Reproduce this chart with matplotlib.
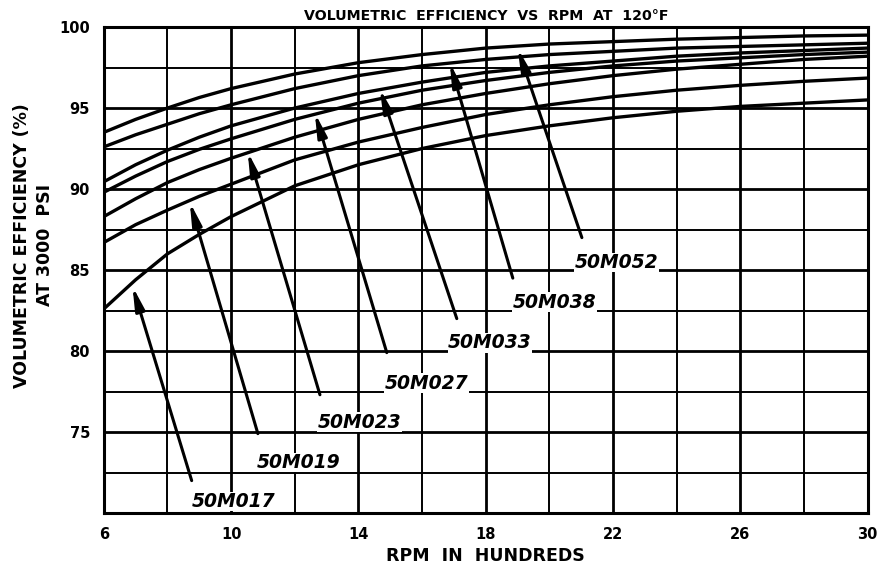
import numpy as np
import matplotlib
matplotlib.use("Agg")
import matplotlib.pyplot as plt

# rpm in hundreds, read at these points for every curve
rpm = [6, 7, 8, 9, 10, 12, 14, 16, 18, 20, 22, 24, 26, 28, 30]

m052 = [93.5, 94.3, 95.0, 95.65, 96.2, 97.1, 97.8, 98.3, 98.7, 98.95, 99.1, 99.25, 99.35, 99.45, 99.5]
m038 = [92.6, 93.35, 94.0, 94.65, 95.2, 96.2, 97.0, 97.6, 98.0, 98.3, 98.5, 98.7, 98.8, 98.9, 99.0]
m033 = [90.45, 91.5, 92.4, 93.2, 93.9, 95.0, 95.9, 96.6, 97.2, 97.6, 97.9, 98.2, 98.4, 98.55, 98.7]
m027 = [89.8, 90.8, 91.7, 92.45, 93.1, 94.3, 95.3, 96.1, 96.7, 97.2, 97.6, 97.9, 98.1, 98.3, 98.45]
m023 = [88.3, 89.4, 90.4, 91.2, 91.9, 93.2, 94.3, 95.2, 95.9, 96.5, 97.0, 97.4, 97.7, 98.0, 98.2]
m019 = [86.7, 87.8, 88.7, 89.55, 90.3, 91.8, 92.9, 93.8, 94.6, 95.2, 95.7, 96.1, 96.4, 96.65, 96.85]
m017 = [82.6, 84.4, 86.0, 87.2, 88.3, 90.2, 91.5, 92.5, 93.3, 93.9, 94.4, 94.8, 95.1, 95.3, 95.5]

curves = [m017, m019, m023, m027, m033, m038, m052]
names = ["50M017", "50M019", "50M023", "50M027", "50M033", "50M038", "50M052"]

# where each leader arrow touches its curve, and where its tail / label sit
tip_x = [6.9, 8.7, 10.52, 12.63, 14.67, 16.87, 19.0]
tip_y = [84.0, 89.2, 92.3, 94.7, 96.2, 97.8, 98.7]
tail_x = [8.76, 10.84, 12.79, 14.89, 17.09, 18.85, 21.02]
tail_y = [72.0, 74.9, 77.3, 79.9, 82.0, 84.5, 87.0]
lab_x = [8.76, 10.81, 12.72, 14.83, 16.81, 18.85, 20.80]
lab_y = [71.3, 73.7, 76.2, 78.6, 81.1, 83.6, 86.05]

fig = plt.figure(figsize=(8.8, 5.69), dpi=100)
ax = fig.add_axes([0.118, 0.0984, 0.868, 0.8541])

ax.set_xlim(6, 30)
ax.set_ylim(70, 100)

# grid drawn by hand so major / minor lines get different weights
for gx in np.arange(8, 30, 2):
    lw = 2.0 if (gx - 6) % 4 == 0 else 1.4
    ax.axvline(gx, color="black", lw=lw, zorder=1)
for gy in np.arange(72.5, 100, 2.5):
    lw = 2.0 if gy % 5 == 0 else 1.4
    ax.axhline(gy, color="black", lw=lw, zorder=1)

for c in curves:
    ax.plot(rpm, c, color="black", lw=2.4, zorder=3)

for i in range(len(names)):
    ax.annotate("", xy=(tip_x[i], tip_y[i]), xytext=(tail_x[i], tail_y[i]),
                arrowprops=dict(arrowstyle="-|>,head_length=1.0,head_width=0.2",
                                color="black", lw=2.2,
                                mutation_scale=14, shrinkA=0, shrinkB=0),
                zorder=4)
    ax.text(lab_x[i], lab_y[i], names[i], fontsize=13.5, fontweight="bold",
            fontstyle="italic", ha="left", va="top", zorder=5,
            bbox=dict(facecolor="white", edgecolor="none", pad=0.3))

for s in ax.spines.values():
    s.set_linewidth(2.2)

ax.set_xticks([6, 10, 14, 18, 22, 26, 30])
ax.set_yticks([75, 80, 85, 90, 95, 100])
ax.tick_params(length=0, labelsize=10.5, pad=10)
for t in ax.get_xticklabels() + ax.get_yticklabels():
    t.set_fontweight("bold")

ax.set_xlabel("RPM  IN  HUNDREDS", fontsize=12.5, fontweight="bold", labelpad=4)
fig.text(0.038, 0.569, "VOLUMETRIC EFFICIENCY (%)\nAT 3000  PSI", fontsize=12.5,
         fontweight="bold", rotation=90, ha="center", va="center",
         linespacing=1.35, multialignment="center")
ax.set_title("VOLUMETRIC  EFFICIENCY  VS  RPM  AT  120\u00b0F", fontsize=10.2,
             fontweight="bold", pad=5)

fig.savefig("out.png", dpi=100)
